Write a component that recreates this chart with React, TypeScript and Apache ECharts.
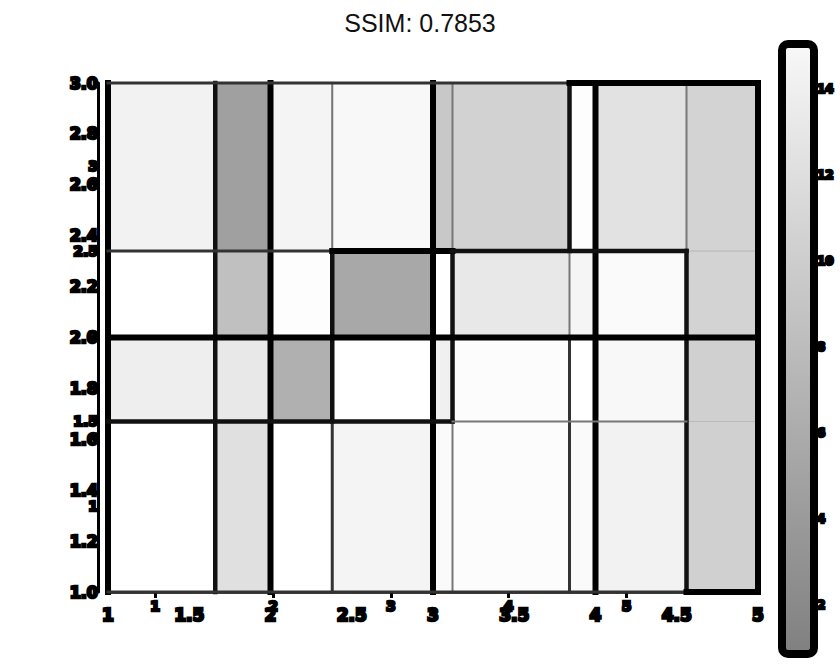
import React, { useEffect, useRef } from "react";
import * as echarts from "echarts";

// cell edges (data units)
const xEdges = [1, 1.66, 2, 2.38, 3, 3.12, 3.84, 4, 4.56, 5];
const yEdges = [1, 1.67, 2, 2.34, 3];

// cell values per row, bottom row first, one value per x interval
const rowA = [14.9, 11.5, 14.9, 13.7, 14.4, 14.6, 14.4, 13.5, 9.8]; // y 1 – 1.67
const rowB = [13.0, 12.4, 6.3, 14.9, 13.3, 14.6, 14.9, 14.1, 9.8]; // y 1.67 – 2
const rowC = [14.9, 8.0, 14.7, 5.4, 14.9, 12.4, 13.8, 14.4, 10.1]; // y 2 – 2.34
const rowD = [13.5, 4.5, 13.7, 14.1, 8.9, 10.0, 14.7, 11.7, 10.1]; // y 2.34 – 3
const rows = [rowA, rowB, rowC, rowD];

// cell borders: [xEdgeIdx0, yEdgeIdx0, xEdgeIdx1, yEdgeIdx1, weight level]
const borders = [
  [0, 0, 0, 4, 3],
  [1, 0, 1, 4, 2],
  [2, 0, 2, 4, 3],
  [3, 3, 3, 4, 0],
  [3, 1, 3, 3, 2],
  [3, 0, 3, 1, 1],
  [4, 0, 4, 4, 3],
  [5, 3, 5, 4, 0],
  [5, 1, 5, 3, 2],
  [5, 0, 5, 1, 0],
  [6, 3, 6, 4, 2],
  [6, 2, 6, 3, 0],
  [6, 0, 6, 2, 1],
  [7, 0, 7, 4, 3],
  [8, 3, 8, 4, 0],
  [8, 0, 8, 3, 2],
  [9, 0, 9, 4, 3],
  [0, 4, 6, 4, 1],
  [6, 4, 9, 4, 3],
  [0, 3, 3, 3, 1],
  [3, 3, 5, 3, 3],
  [5, 3, 8, 3, 2],
  [0, 2, 9, 2, 3],
  [0, 1, 5, 1, 2],
  [5, 1, 8, 1, 0],
  [0, 0, 8, 0, 1],
  [8, 0, 9, 0, 3],
];

const xTicksSecondary = [1, 2, 3, 4, 5];
const yTicksSecondary = [1, 1.5, 2, 2.5, 3];
const colorbarTicks = [2, 4, 6, 8, 10, 12, 14];
const valueMin = 1;
const valueMax = 14.9;
const titleText = "SSIM: 0.7853";

const levelStyle = [
  { w: 2, c: "#777777" },
  { w: 3, c: "#333333" },
  { w: 4.5, c: "#111111" },
  { w: 6, c: "#000000" },
];

const blobLabel = {
  color: "#000",
  fontFamily: "DejaVu Sans",
  fontWeight: "bold" as const,
  textBorderColor: "#000",
  textBorderWidth: 2.5,
};

export default function App() {
  const ref = useRef<HTMLDivElement>(null);
  useEffect(() => {
    if (!ref.current) return;
    const chart = echarts.init(ref.current, null, { renderer: "svg" });
    const cells: number[][] = [];
    rows.forEach((row, r) => {
      row.forEach((v, c) => {
        cells.push([xEdges[c], xEdges[c + 1], yEdges[r], yEdges[r + 1], v]);
      });
    });
    const segs = borders.map((b) => [xEdges[b[0]], yEdges[b[1]], xEdges[b[2]], yEdges[b[3]], b[4]]);

    chart.setOption({
      animation: false,
      backgroundColor: "#fff",
      title: {
        text: titleText,
        left: "center",
        top: 5,
        textStyle: { fontFamily: "Liberation Sans", fontWeight: "normal", fontSize: 25, color: "#111" },
      },
      grid: [
        { left: 108, right: 82, top: 83, bottom: 72 },
        { left: 782, top: 44, width: 32, height: 610 },
      ],
      visualMap: {
        show: false,
        type: "continuous",
        min: valueMin,
        max: valueMax,
        dimension: 4,
        seriesIndex: 0,
        inRange: { color: ["#808080", "#ffffff"] },
      },
      xAxis: [
        {
          type: "value",
          gridIndex: 0,
          min: 1,
          max: 5,
          interval: 0.5,
          position: "bottom",
          axisLine: { show: true, onZero: false, lineStyle: { color: "#444", width: 4 } },
          axisTick: { show: false },
          splitLine: { show: false },
          axisLabel: { ...blobLabel, fontSize: 17, margin: 14 },
        },
        {
          type: "value",
          gridIndex: 0,
          min: 0.6,
          max: 6.115,
          position: "bottom",
          axisLine: { show: false },
          axisTick: { show: true, length: 6, customValues: xTicksSecondary, lineStyle: { color: "#000", width: 3 } },
          splitLine: { show: false },
          axisLabel: { ...blobLabel, fontSize: 14, margin: 7, customValues: xTicksSecondary },
        },
        { type: "value", gridIndex: 1, show: false, min: 0, max: 1 },
      ],
      yAxis: [
        {
          type: "value",
          gridIndex: 0,
          min: 1,
          max: 3,
          interval: 0.2,
          position: "left",
          offset: 10,
          axisLine: { show: true, onZero: false, lineStyle: { color: "#000", width: 3 } },
          axisTick: { show: false },
          splitLine: { show: false },
          axisLabel: { ...blobLabel, fontSize: 16, margin: 0, formatter: (v: number) => v.toFixed(1) },
        },
        {
          type: "value",
          gridIndex: 0,
          min: 0.494,
          max: 3.488,
          position: "left",
          offset: 10,
          axisLine: { show: false },
          axisTick: { show: false },
          splitLine: { show: false },
          axisLabel: { ...blobLabel, fontSize: 14, margin: 0, customValues: yTicksSecondary },
        },
        {
          type: "value",
          gridIndex: 1,
          min: 0.85,
          max: 15.04,
          position: "right",
          axisLine: { show: false },
          axisTick: { show: true, length: 6, customValues: colorbarTicks, lineStyle: { color: "#000", width: 3 } },
          splitLine: { show: false },
          axisLabel: { ...blobLabel, fontSize: 12, margin: 3, customValues: colorbarTicks },
        },
      ],
      graphic: [
        {
          type: "rect",
          shape: { x: 782, y: 44, width: 32, height: 610, r: 6 },
          style: {
            fill: new echarts.graphic.LinearGradient(0, 0, 0, 1, [
              { offset: 0, color: "#f8f8f8" },
              { offset: 1, color: "#808080" },
            ]),
            stroke: "#000",
            lineWidth: 8,
          },
          z: 1,
        },
      ],
      series: [
        {
          type: "custom",
          xAxisIndex: 0,
          yAxisIndex: 0,
          data: cells,
          encode: { x: [0, 1], y: [2, 3] },
          renderItem: (params: any, api: any) => {
            const p0 = api.coord([api.value(0), api.value(2)]);
            const p1 = api.coord([api.value(1), api.value(3)]);
            return {
              type: "rect",
              shape: { x: p0[0], y: p1[1], width: p1[0] - p0[0], height: p0[1] - p1[1] },
              style: { fill: api.visual("color"), stroke: "#bbb", lineWidth: 1 },
            };
          },
          z: 2,
        },
        {
          type: "custom",
          xAxisIndex: 0,
          yAxisIndex: 0,
          data: segs,
          encode: { x: [0, 2], y: [1, 3] },
          renderItem: (params: any, api: any) => {
            const a = api.coord([api.value(0), api.value(1)]);
            const b = api.coord([api.value(2), api.value(3)]);
            const st = levelStyle[api.value(4)];
            return {
              type: "line",
              shape: { x1: a[0], y1: a[1], x2: b[0], y2: b[1] },
              style: { stroke: st.c, lineWidth: st.w, lineCap: "square" },
            };
          },
          z: 3,
        },
      ],
    });
    return () => chart.dispose();
  }, []);
  return (
    <div
      ref={ref}
      style={{ position: "absolute", left: 0, top: 0, width: 840, height: 664 }}
    />
  );
}
